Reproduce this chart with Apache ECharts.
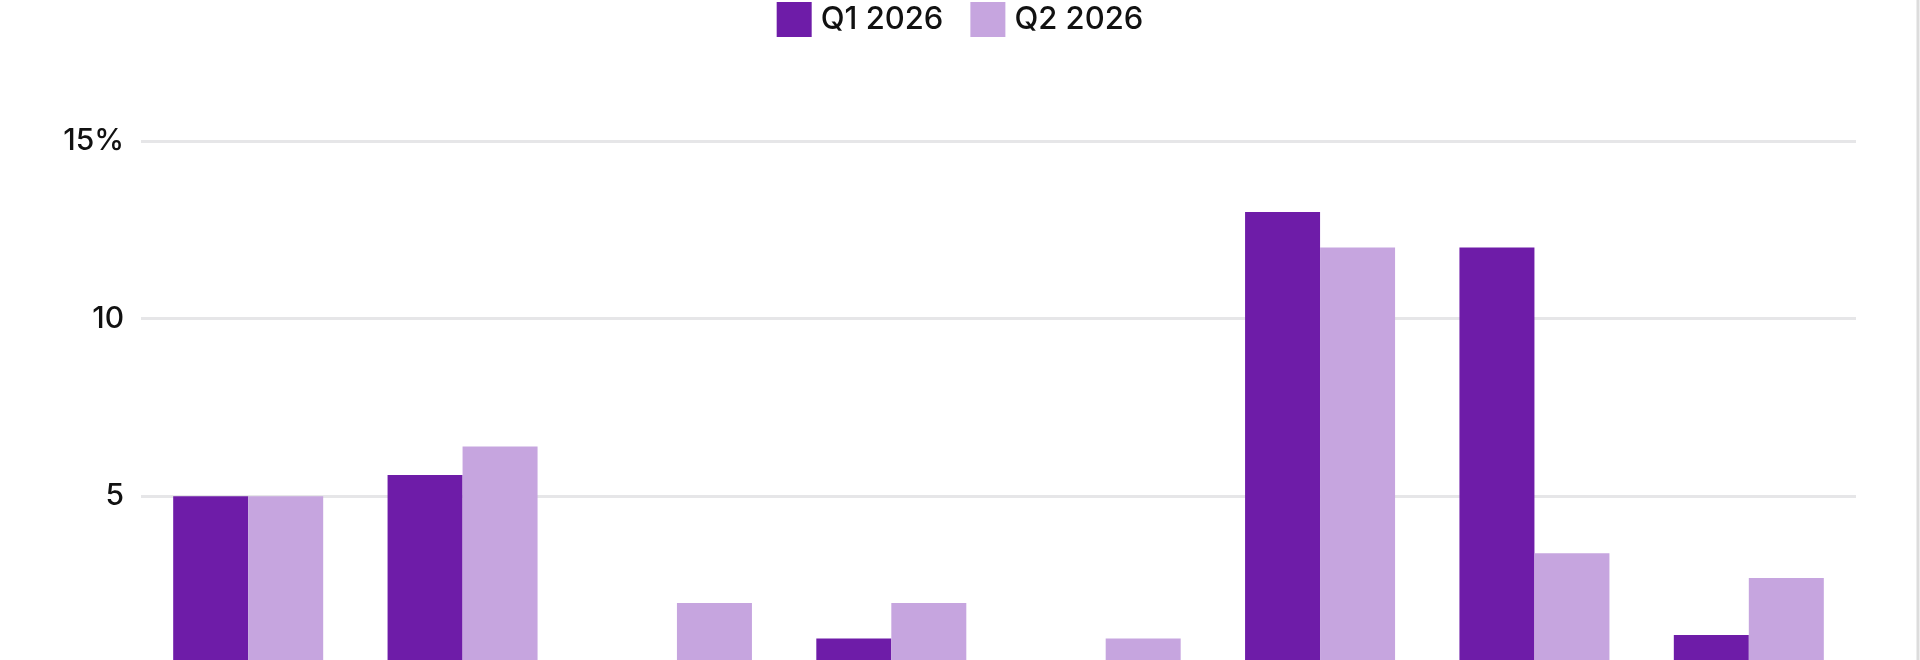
<!DOCTYPE html>
<html>
<head>
<meta charset="utf-8">
<script src="https://cdn.jsdelivr.net/npm/echarts@6/dist/echarts.min.js"></script>
<style>
    html, body { margin: 0; padding: 0; background: #fff; }
    #chart { width: 1920px; height: 660px; }
</style>
</head>
<body>
<div id="chart"></div>
<script>
// category names are cut off below the picture, so only placeholders
var categories = ['1', '2', '3', '4', '5', '6', '7', '8']
var seriesNames = ['Q1 2026', 'Q2 2026']
var q1Values = [5.0, 5.6, 0, 1.0, 0, 13.0, 12.0, 1.1]
var q2Values = [5.0, 6.4, 2.0, 2.0, 1.0, 12.0, 3.4, 2.7]
var yTicks = [0, 5, 10, 15]

var colors = ['#6e1ca8', '#c6a5df']
var font = 'Inter, "Noto Sans", sans-serif'

var chart = echarts.init(document.getElementById('chart'))

var option = {
    backgroundColor: '#fff',
    animation: false,
    color: colors,
    legend: {
        top: 2,
        left: 'center',
        padding: 0,
        itemWidth: 35,
        itemHeight: 35,
        itemGap: 27,
        icon: 'rect',
        textStyle: {
            fontFamily: font,
            fontSize: 31,
            fontWeight: 500,
            color: '#111',
            padding: [0, 0, 0, 4]
        },
        data: seriesNames
    },
    grid: {
        left: 141,
        right: 64,
        top: 141,
        bottom: -14,
        outerBoundsMode: 'none'
    },
    xAxis: {
        type: 'category',
        data: categories,
        axisTick: { show: false },
        axisLabel: { show: false },
        axisLine: { lineStyle: { color: '#e6e6e8', width: 3 } }
    },
    yAxis: {
        type: 'value',
        min: yTicks[0],
        max: yTicks[yTicks.length - 1],
        interval: yTicks[1] - yTicks[0],
        axisLine: { show: false },
        axisTick: { show: false },
        splitLine: { lineStyle: { color: '#e6e6e8', width: 3 } },
        axisLabel: {
            margin: 17,
            fontFamily: font,
            fontSize: 30,
            fontWeight: 500,
            color: '#111',
            formatter: function (v) {
                return v === yTicks[yTicks.length - 1] ? v + '%' : String(v)
            }
        }
    },
    series: [
        {
            name: seriesNames[0],
            type: 'bar',
            data: q1Values,
            barWidth: 75,
            barGap: '0%'
        },
        {
            name: seriesNames[1],
            type: 'bar',
            data: q2Values,
            barWidth: 75,
            barGap: '0%'
        }
    ],
    graphic: [
        {
            type: 'line',
            shape: { x1: 1918, y1: 0, x2: 1918, y2: 660 },
            style: { stroke: '#dcdcdc', lineWidth: 3 }
        }
    ]
}

chart.setOption(option)
</script>
</body>
</html>
